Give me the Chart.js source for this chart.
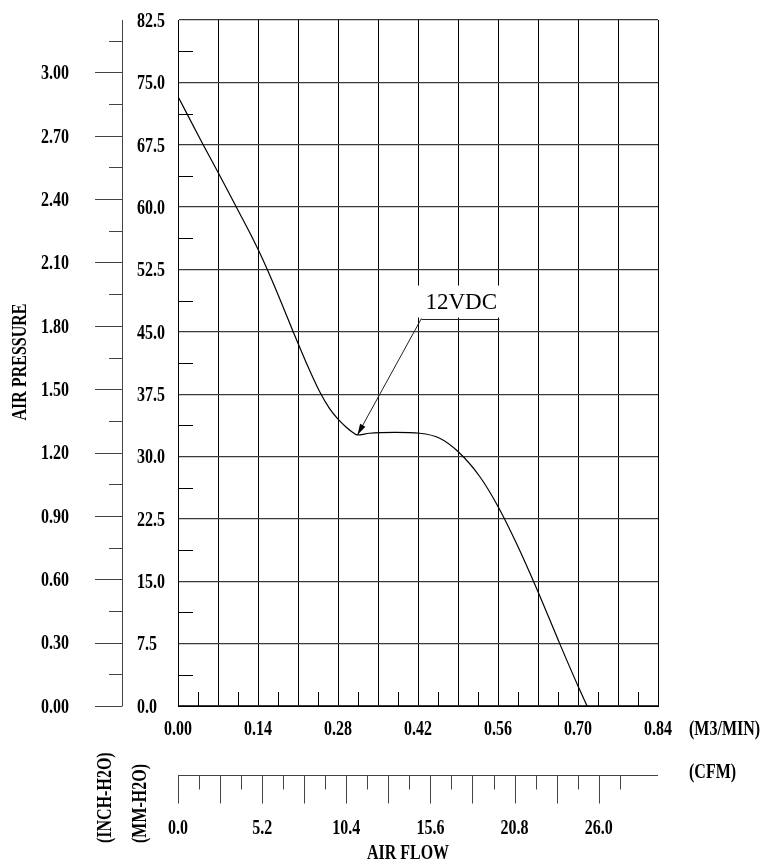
<!DOCTYPE html>
<html><head><meta charset="utf-8">
<script src="https://cdn.jsdelivr.net/npm/chart.js@4.4.1/dist/chart.umd.min.js"></script>
<style>html,body{margin:0;padding:0;background:#fff;}canvas{display:block;}</style>
</head><body>
<canvas id="c" width="766" height="867"></canvas>
<script>
// ---- data ----
const flowM3     = [0.000, 0.044, 0.070, 0.102, 0.125, 0.145, 0.165, 0.185, 0.201, 0.225, 0.248, 0.265, 0.280, 0.295, 0.306, 0.314, 0.335, 0.380, 0.423, 0.458, 0.490, 0.528, 0.560, 0.592, 0.630, 0.668, 0.700, 0.716];
const pressureMM = [73.3,  67.5,  64.2,  60.0,  57.0,  54.2,  51.1,  47.8,  45.1,  41.2,  37.8,  35.8,  34.5,  33.5,  32.9,  32.6,  32.8,  32.9,  32.8,  32.2,  30.6,  27.6,  24.0,  19.6,  13.75, 7.5,   2.4,   0.0];
const seriesLabel = '12VDC';
const xGridM3   = [0, 0.07, 0.14, 0.21, 0.28, 0.35, 0.42, 0.49, 0.56, 0.63, 0.70, 0.77, 0.84];
const xLabelsM3 = ['0.00', '0.14', '0.28', '0.42', '0.56', '0.70', '0.84'];
const yGridMM   = [0, 7.5, 15, 22.5, 30, 37.5, 45, 52.5, 60, 67.5, 75, 82.5];
const yLabelsMM = ['0.0', '7.5', '15.0', '22.5', '30.0', '37.5', '45.0', '52.5', '60.0', '67.5', '75.0', '82.5'];
const inchTicks  = [0, 0.15, 0.30, 0.45, 0.60, 0.75, 0.90, 1.05, 1.20, 1.35, 1.50, 1.65, 1.80, 1.95, 2.10, 2.25, 2.40, 2.55, 2.70, 2.85, 3.00, 3.15];
const inchLabels = ['0.00', '0.30', '0.60', '0.90', '1.20', '1.50', '1.80', '2.10', '2.40', '2.70', '3.00'];
const cfmTicks  = [0, 1.3, 2.6, 3.9, 5.2, 6.5, 7.8, 9.1, 10.4, 11.7, 13.0, 14.3, 15.6, 16.9, 18.2, 19.5, 20.8, 22.1, 23.4, 24.7, 26.0, 27.3];
const cfmLabels = ['0.0', '5.2', '10.4', '15.6', '20.8', '26.0'];
const MM_PER_INCH = 25.4;
const CFM_PER_M3MIN = 35.3147;

const BOLD = 'bold 20px "Liberation Serif", "Times New Roman", serif';
const REG  = '24px "Liberation Serif", "Times New Roman", serif';
const SX = 0.8;

function txt(ctx, s, x, y, align, font, sx, rot) {
  ctx.save();
  ctx.translate(x, y);
  if (rot) ctx.rotate(rot);
  ctx.scale(sx, 1);
  ctx.font = font;
  ctx.fillStyle = '#000';
  ctx.textAlign = align;
  ctx.textBaseline = 'alphabetic';
  ctx.fillText(s, 0, 0);
  ctx.restore();
}
const a = p => Math.round(p) + 0.5;
function seg(ctx, x1, y1, x2, y2) { ctx.beginPath(); ctx.moveTo(x1, y1); ctx.lineTo(x2, y2); ctx.stroke(); }

const decor = {
  id: 'decor',
  afterDraw(chart) {
    const ctx = chart.ctx, xs = chart.scales.x, ys = chart.scales.y, ca = chart.chartArea;
    ctx.save();
    ctx.lineWidth = 1;
    ctx.strokeStyle = '#000';
    // minor ticks inside plot (left, horizontal)
    for (let i = 0; i < yGridMM.length - 1; i++) {
      const py = a(ys.getPixelForValue((yGridMM[i] + yGridMM[i + 1]) / 2));
      seg(ctx, ca.left, py, ca.left + 15, py);
    }
    // minor ticks inside plot (bottom, vertical)
    for (let i = 0; i < xGridM3.length - 1; i++) {
      const px = a(xs.getPixelForValue((xGridM3[i] + xGridM3[i + 1]) / 2));
      seg(ctx, px, ca.bottom, px, ca.bottom - 14);
    }
    // mm labels
    yLabelsMM.forEach(l => {
      const py = ys.getPixelForValue(parseFloat(l));
      txt(ctx, l, 137, py + 6.8, 'left', BOLD, SX);
    });
    // m3/min labels
    xLabelsM3.forEach(l => {
      const px = xs.getPixelForValue(parseFloat(l));
      txt(ctx, l, px, 735, 'center', BOLD, SX);
    });
    txt(ctx, '(M3/MIN)', 689, 735, 'left', BOLD, SX);

    // inch axis
    const axX = 122.5;
    ctx.strokeStyle = '#444';
    seg(ctx, axX, ca.top, axX, ca.bottom);
    inchTicks.forEach(v => {
      const py = a(ys.getPixelForValue(v * MM_PER_INCH));
      const major = inchLabels.includes(v.toFixed(2));
      seg(ctx, major ? 95 : 109, py, axX, py);
    });
    inchLabels.forEach(l => {
      const py = ys.getPixelForValue(parseFloat(l) * MM_PER_INCH);
      txt(ctx, l, 69, py + 6.8, 'right', BOLD, SX);
    });

    // CFM axis
    const axY = 775.5;
    seg(ctx, ca.left, axY, ca.right, axY);
    cfmTicks.forEach((v, i) => {
      const px = a(xs.getPixelForValue(v / CFM_PER_M3MIN));
      const major = i % 2 === 0;
      seg(ctx, px, axY, px, axY + (major ? 28 : 14));
    });
    cfmLabels.forEach(l => {
      const px = xs.getPixelForValue(parseFloat(l) / CFM_PER_M3MIN);
      txt(ctx, l, px, 834, 'center', BOLD, SX);
    });
    txt(ctx, '(CFM)', 689, 778, 'left', BOLD, SX);
    txt(ctx, 'AIR FLOW', 408, 859, 'center', BOLD, SX);

    // rotated titles
    txt(ctx, 'AIR PRESSURE', 26, 362, 'center', BOLD, SX, -Math.PI / 2);
    txt(ctx, '(INCH-H2O)', 110.5, 843, 'left', BOLD, SX, -Math.PI / 2);
    txt(ctx, '(MM-H2O)', 145.5, 843, 'left', BOLD, SX, -Math.PI / 2);

    // series annotation: arrow to the local minimum of the curve
    let mi = -1;
    for (let i = 0; i < pressureMM.length; i++) {
      if (flowM3[i] > 0.2 && flowM3[i] < 0.4 && (mi < 0 || pressureMM[i] < pressureMM[mi])) mi = i;
    }
    const tx = xs.getPixelForValue(flowM3[mi]), ty = ys.getPixelForValue(pressureMM[mi]);
    const ax = xs.getPixelForValue(0.426), ay = ys.getPixelForValue(46.6);
    ctx.fillStyle = '#fff';
    ctx.fillRect(ax - 7, ay - 33, 89, 32);
    txt(ctx, seriesLabel, ax + 4, ay - 9.5, 'left', REG, 0.96);
    ctx.strokeStyle = '#222';
    ctx.lineWidth = 1;
    seg(ctx, ax, a(ay), ax + 78, a(ay));
    seg(ctx, ax, ay, tx, ty);
    const ang = Math.atan2(ty - ay, tx - ax);
    const L = 11, W = 3;
    const bx = tx - L * Math.cos(ang), by = ty - L * Math.sin(ang);
    ctx.fillStyle = '#000';
    ctx.beginPath();
    ctx.moveTo(tx, ty);
    ctx.lineTo(bx + W * Math.sin(ang), by - W * Math.cos(ang));
    ctx.lineTo(bx - W * Math.sin(ang), by + W * Math.cos(ang));
    ctx.closePath();
    ctx.fill();
    ctx.restore();
  }
};

new Chart(document.getElementById('c'), {
  type: 'line',
  data: {
    datasets: [{
      label: seriesLabel,
      data: flowM3.map((x, i) => ({ x, y: pressureMM[i] })),
      borderColor: '#000',
      borderWidth: 1.2,
      pointRadius: 0,
      fill: false,
      cubicInterpolationMode: 'monotone'
    }]
  },
  options: {
    responsive: false,
    animation: false,
    layout: { padding: { left: 178, right: 108, top: 20, bottom: 161 } },
    plugins: { legend: { display: false }, tooltip: { enabled: false } },
    scales: {
      x: {
        type: 'linear', min: 0, max: 0.84,
        afterBuildTicks: s => { s.ticks = xGridM3.map(v => ({ value: v })); },
        ticks: { display: false },
        grid: { color: '#000', lineWidth: 1, drawTicks: false },
        border: { display: true, color: '#000', width: 1 }
      },
      y: {
        type: 'linear', min: 0, max: 82.5,
        afterBuildTicks: s => { s.ticks = yGridMM.map(v => ({ value: v })); },
        ticks: { display: false },
        grid: { color: '#3a3a3a', lineWidth: 1.2, drawTicks: false },
        border: { display: true, color: '#000', width: 1 }
      }
    }
  },
  plugins: [decor]
});
</script>
</body></html>
